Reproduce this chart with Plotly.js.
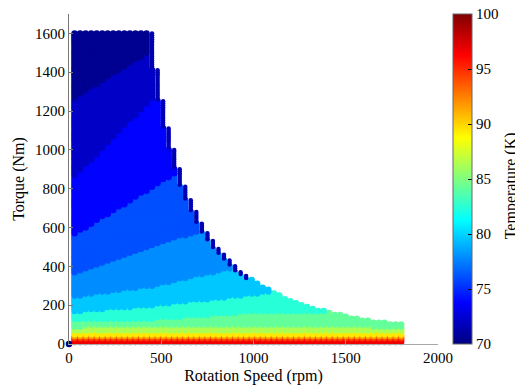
<!DOCTYPE html>
<html>
<head>
<meta charset="utf-8">
<script src="https://cdn.plot.ly/plotly-3.0.1.min.js"></script>
<style>html,body{margin:0;padding:0;background:#fff;overflow:hidden}</style>
</head>
<body>
<div id="chart" style="width:515px;height:387px"></div>
<script>
// ---- data ----
// grid columns (rotation speed, rpm)
const speedRpm = [30,60,90,120,150,180,210,240,270,300,330,360,390,420,450,480,510,540,570,600,
  630,660,690,720,750,780,810,840,870,900,930,960,990,1020,1050,1080,1110,1140,1170,1200,
  1230,1260,1290,1320,1350,1380,1410,1440,1470,1500,1530,1560,1590,1620,1650,1680,1710,1740,1770,1800];
// highest torque reached in each column (Nm)
const maxTorque = [1600,1600,1600,1600,1600,1600,1600,1600,1600,1600,1600,1600,1600,1600,1600,
  1410,1250,1115,1000,900,815,745,680,625,575,530,495,460,430,400,375,352,330,312,295,280,264,250,
  238,226,215,205,195,186,178,170,163,156,150,144,139,133,128,124,119,115,111,107,104,100];
const torqueStep = 10;   // spacing of the torque rows (Nm)

// temperature bands (K), from the coolest (top) to the hottest (bottom)
const bandTemp = [70.5, 72.1, 73.8, 76.1, 77.9, 79.6, 82.4, 84.2, 86.3, 89.4, 91.8, 94.8, 96.7];
// lower torque limit of each band (except the last) at these speeds
const anchorSpeed = [30, 450, 900, 1350, 1800];
const floor1  = [1270, 1515, 1780, 2040, 2300];
const floor2  = [864, 1265, 1690, 2100, 2500];
const floor3  = [563, 807, 1068, 1330, 1590];
const floor4  = [366, 502, 647, 790, 935];
const floor5  = [245, 300, 395, 480, 560];
const floor6  = [167, 198, 246, 290, 330];
const floor7  = [124, 130, 160, 168, 172];
const floor8  = [89, 100, 98, 92, 89];
const floor9  = [66, 68, 64, 64, 64];
const floor10 = [46, 46, 42, 42, 42];
const floor11 = [35, 35, 33, 33, 33];
const floor12 = [25, 25, 25, 25, 25];
// darker rim on the stepped edge of the field weakening region
const rimSpeedRange = [450, 960];
const rimTemp = 71.5;
// lone point at the origin
const originPoint = {speed: 0, torque: 0, temp: 70};

const tempTicks = [70, 75, 80, 85, 90, 95, 100];
const xTicks = [0, 500, 1000, 1500, 2000];
const yTicks = [0, 200, 400, 600, 800, 1000, 1200, 1400, 1600];

// ---- build marks ----
const floors = [floor1, floor2, floor3, floor4, floor5, floor6, floor7, floor8, floor9, floor10, floor11, floor12];
function floorAt(arr, s) {
  for (let k = 0; k < anchorSpeed.length - 1; k++) {
    if (s <= anchorSpeed[k + 1]) {
      const f = (s - anchorSpeed[k]) / (anchorSpeed[k + 1] - anchorSpeed[k]);
      return arr[k] + f * (arr[k + 1] - arr[k]);
    }
  }
  return arr[arr.length - 1];
}
function bandOf(s, t) {
  for (let b = 0; b < floors.length; b++) {
    if (t >= floorAt(floors[b], s)) return bandTemp[b];
  }
  return bandTemp[bandTemp.length - 1];
}
const MARK = 6.5, RIM_MARK = 4.5;
const xs = [], ys = [], cs = [], ss = [];
for (let i = speedRpm.length - 1; i >= 0; i--) {
  const s = speedRpm[i];
  const nextTop = i + 1 < speedRpm.length ? maxTorque[i + 1] : 0;
  for (let t = torqueStep; t <= maxTorque[i] + 1e-9; t += torqueStep) {
    let temp = bandOf(s, t), sz = MARK;
    if (s >= rimSpeedRange[0] && s <= rimSpeedRange[1] && t > nextTop) { temp = rimTemp; sz = RIM_MARK; }
    xs.push(s); ys.push(t); cs.push(temp); ss.push(sz);
  }
}
xs.push(originPoint.speed); ys.push(originPoint.torque); cs.push(originPoint.temp); ss.push(MARK);

const jet = [[0,'rgb(0,0,128)'],[0.125,'rgb(0,0,255)'],[0.375,'rgb(0,255,255)'],
             [0.625,'rgb(255,255,0)'],[0.875,'rgb(255,0,0)'],[1,'rgb(128,0,0)']];
const serif = '"Liberation Serif","Times New Roman",serif';

const trace = {
  type: 'scatter', mode: 'markers', x: xs, y: ys, cliponaxis: false,
  hoverinfo: 'skip',
  marker: {
    color: cs, colorscale: jet, cmin: 70, cmax: 100, size: ss, opacity: 1, line: {width: 0},
    colorbar: {
      thickness: 19, len: 1, lenmode: 'fraction', x: 1.038, xanchor: 'left', xpad: 0,
      y: 0.5, yanchor: 'middle', ypad: 0, outlinewidth: 1, outlinecolor: '#666',
      tickvals: tempTicks, ticks: 'inside', ticklen: 4, tickcolor: '#000',
      tickfont: {family: serif, size: 15, color: '#000'}
    }
  }
};

const layout = {
  width: 515, height: 387,
  margin: {l: 69, r: 76, t: 14, b: 43},
  paper_bgcolor: '#fff', plot_bgcolor: '#fff', showlegend: false,
  font: {family: serif, size: 15, color: '#000'},
  xaxis: {
    range: [0, 2000], tickvals: xTicks, ticks: 'inside', ticklen: 4, tickcolor: '#999',
    showline: true, linecolor: '#aaa', linewidth: 1, showgrid: false, zeroline: false,
    tickfont: {family: serif, size: 15, color: '#000'},
    title: {text: 'Rotation Speed (rpm)', font: {family: serif, size: 16, color: '#000'}, standoff: 4}
  },
  yaxis: {
    range: [0, 1700], tickvals: yTicks, ticks: 'inside', ticklen: 4, tickcolor: '#777',
    showline: true, linecolor: '#777', linewidth: 1, showgrid: false, zeroline: false,
    tickfont: {family: serif, size: 15, color: '#000'},
    title: {text: 'Torque (Nm)', font: {family: serif, size: 16, color: '#000'}, standoff: 6}
  },
  annotations: [{
    text: 'Temperature (K)', xref: 'paper', yref: 'paper', x: 1.197, y: 0.48,
    xanchor: 'center', yanchor: 'middle', textangle: -90, showarrow: false,
    font: {family: serif, size: 16, color: '#000'}
  }]
};

Plotly.newPlot('chart', [trace], layout, {displayModeBar: false, staticPlot: true});
</script>
</body>
</html>
